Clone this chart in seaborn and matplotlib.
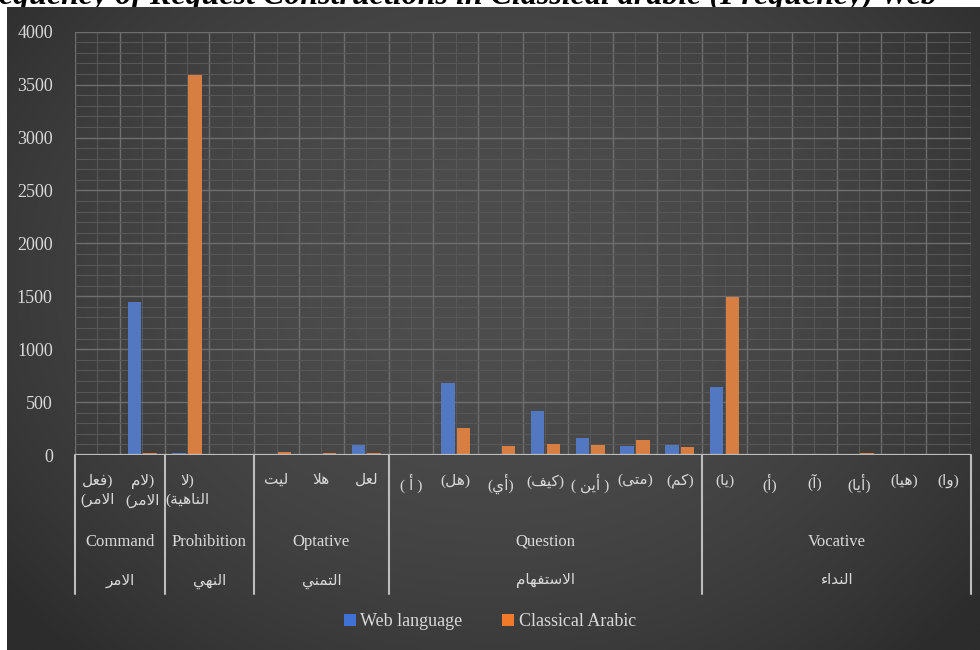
import re
import numpy as np
import pandas as pd
import matplotlib
matplotlib.use("Agg")
import matplotlib.pyplot as plt
import seaborn as sns
from matplotlib.patches import Patch
from matplotlib.lines import Line2D
from matplotlib.transforms import blended_transform_factory

# ---------------- data ----------------
subcats = ["(فعل\nالامر)", "(لام\nالامر)", "(لا\nالناهية)", "",
           "ليت", "هلا", "لعل",
           "( أ )", "(هل)", "(أي)", "(كيف)", "( أين )", "(متى)", "(كم)",
           "(يا)", "(أ)", "(آ)", "(أيا)", "(هيا)", "(وا)"]
groups_en = ["Command", "Prohibition", "Optative", "Question", "Vocative"]
groups_ar = ["الامر", "النهي", "التمني", "الاستفهام", "النداء"]
group_sizes = [2, 2, 3, 7, 6]
series = ["Web language", "Classical Arabic"]
web = [0, 1450, 15, np.nan, 0, 10, 95, 0, 678, 0, 416, 161, 85, 95,
       640, 0, 0, 0, 10, 0]
classical = [0, 20, 3590, np.nan, 25, 15, 15, 10, 255, 85, 104, 95, 142, 76,
             1490, 0, 0, 15, 0, 0]
yticks = [0, 500, 1000, 1500, 2000, 2500, 3000, 3500, 4000]
title = "Frequency of Request Constructions in Classical arabic (Frequency) Web"

# ------------- minimal Arabic shaping (presentation forms, visual RTL order) -------------
FORMS = {
    'ا': ('\uFE8D', '\uFE8E', None, None), 'أ': ('\uFE83', '\uFE84', None, None),
    'آ': ('\uFE81', '\uFE82', None, None), 'ء': ('\uFE80', None, None, None),
    'د': ('\uFEA9', '\uFEAA', None, None), 'ر': ('\uFEAD', '\uFEAE', None, None),
    'و': ('\uFEED', '\uFEEE', None, None), 'ة': ('\uFE93', '\uFE94', None, None),
    'ى': ('\uFEEF', '\uFEF0', None, None),
    'ت': ('\uFE95', '\uFE96', '\uFE97', '\uFE98'), 'س': ('\uFEB1', '\uFEB2', '\uFEB3', '\uFEB4'),
    'ع': ('\uFEC9', '\uFECA', '\uFECB', '\uFECC'), 'ف': ('\uFED1', '\uFED2', '\uFED3', '\uFED4'),
    'ك': ('\uFED9', '\uFEDA', '\uFEDB', '\uFEDC'), 'ل': ('\uFEDD', '\uFEDE', '\uFEDF', '\uFEE0'),
    'م': ('\uFEE1', '\uFEE2', '\uFEE3', '\uFEE4'), 'ن': ('\uFEE5', '\uFEE6', '\uFEE7', '\uFEE8'),
    'ه': ('\uFEE9', '\uFEEA', '\uFEEB', '\uFEEC'), 'ي': ('\uFEF1', '\uFEF2', '\uFEF3', '\uFEF4'),
}
LAMALEF = {'ا': ('\uFEFB', '\uFEFC'), 'أ': ('\uFEF7', '\uFEF8'), 'آ': ('\uFEF5', '\uFEF6')}
ARABIC = r'[\u0621-\u064A]+'


def shape_word(w):
    units = []
    i = 0
    while i < len(w):
        c = w[i]
        if c == 'ل' and i + 1 < len(w) and w[i + 1] in LAMALEF:
            units.append(('LA', w[i + 1]))
            i += 2
        else:
            units.append(('C', c))
            i += 1

    def dual(u):
        return u[0] == 'C' and u[1] in FORMS and FORMS[u[1]][2] is not None

    def joinable(u):
        return u[0] == 'LA' or (u[1] in FORMS and FORMS[u[1]][1] is not None)

    out = []
    for k, u in enumerate(units):
        prev = k > 0 and dual(units[k - 1]) and joinable(u)
        nxt = k + 1 < len(units) and dual(u) and joinable(units[k + 1])
        if u[0] == 'LA':
            out.append(LAMALEF[u[1]][1 if prev else 0])
            continue
        f = FORMS.get(u[1])
        if f is None:
            out.append(u[1])
            continue
        if prev and nxt:
            out.append(f[3])
        elif prev:
            out.append(f[1])
        elif nxt:
            out.append(f[2])
        else:
            out.append(f[0])
    return ''.join(out)[::-1]


MIRROR = {'(': ')', ')': '('}


def ar_line(line):
    tokens = re.findall(ARABIC + r'|[^\u0621-\u064A]', line)
    out = []
    for t in reversed(tokens):
        if re.fullmatch(ARABIC, t):
            out.append(shape_word(t))
        else:
            out.append(MIRROR.get(t, t))
    return ''.join(out)


def ar(text):
    return '\n'.join(ar_line(l) for l in text.split('\n'))


# ---------------- style ----------------
sns.set_theme(style="dark")
plt.rcParams['font.family'] = ['Liberation Serif', 'DejaVu Sans']
TXT = '#d9d9d9'
BLUE = '#3f72d4'
ORANGE = '#f07a2a'

W, H = 980, 650
fig = plt.figure(figsize=(9.8, 6.5), dpi=100, facecolor='white')

# background panel with soft radial gradient
bg = fig.add_axes([7 / W, 0, 1 - 7 / W, 1 - 7 / H], zorder=-5)
gh, gw = 160, 240
yy, xx = np.mgrid[0:gh, 0:gw]
r = np.sqrt(((xx - gw * 0.5) / (gw * 0.62)) ** 2 + ((yy - gh * 0.42) / (gh * 0.75)) ** 2)
gray = np.clip(77 - 30 * r ** 2, 44, 80) / 255.0
bg.imshow(np.dstack([gray, gray, gray]), aspect='auto', interpolation='bilinear')
bg.set_axis_off()

# title (cut off at top as in the source)
fig.text(-35 / W, 1 - 4 / H, title, fontsize=23, fontstyle='italic', fontweight='bold',
         color='black', ha='left', va='baseline', zorder=-10)

# main axes
x0, x1 = 75, 971
y0, y1 = 455, 31.7
ax = fig.add_axes([x0 / W, 1 - y0 / H, (x1 - x0) / W, (y0 - y1) / H])
ax.patch.set_alpha(0)

df = pd.DataFrame({
    'slot': subcats * 2,
    'value': web + classical,
    'series': [series[0]] * len(subcats) + [series[1]] * len(subcats),
})
sns.barplot(data=df, x='slot', y='value', hue='series', order=subcats, hue_order=series,
            palette=[BLUE, ORANGE], width=0.7, gap=0.15, errorbar=None, linewidth=0,
            legend=False, ax=ax, zorder=3)

n = len(subcats)
ax.set_xlim(-0.5, n - 0.5)
ax.set_ylim(0, 4000)
ax.set_xticks(np.arange(-0.5, n, 1))
ax.set_xticks(np.arange(n), minor=True)
ax.set_xticklabels([])
ax.set_yticks(yticks)
ax.set_yticks(np.arange(0, 4001, 100), minor=True)
ax.set_yticklabels([str(v) for v in yticks])
ax.tick_params(axis='both', which='both', length=0)
ax.tick_params(axis='y', pad=16, labelsize=13, labelcolor=TXT)
ax.set_xlabel('')
ax.set_ylabel('')
ax.grid(True, which='major', color='#6e6e6e', linewidth=1.0)
ax.grid(True, which='minor', color='#575757', linewidth=0.8)
ax.set_axisbelow(True)
for s in ax.spines.values():
    s.set_visible(False)
ax.axhline(0, color='#bdbdbd', linewidth=1.6, zorder=4)

# multi-level category labels
trans = blended_transform_factory(ax.transData, fig.transFigure)
LINE = '#bdbdbd'
for i, lab in enumerate(subcats):
    if lab:
        ax.text(i, 1 - 474 / H, ar(lab), transform=trans, ha='center', va='top',
                color=TXT, fontsize=11, linespacing=1.45, clip_on=False)
bounds = np.concatenate([[0], np.cumsum(group_sizes)]) - 0.5
for b in bounds:
    ax.add_line(Line2D([b, b], [1 - 455 / H, 1 - 594 / H], transform=trans,
                       color=LINE, linewidth=1.5, clip_on=False))
for g in range(len(group_sizes)):
    cx = (bounds[g] + bounds[g + 1]) / 2
    ax.text(cx, 1 - 542 / H, groups_en[g], transform=trans, ha='center', va='center',
            color=TXT, fontsize=12, clip_on=False)
    ax.text(cx, 1 - 581 / H, ar(groups_ar[g]), transform=trans, ha='center', va='center',
            color=TXT, fontsize=11, clip_on=False)

# legend
handles = [Patch(facecolor=BLUE, edgecolor='none', label=series[0]),
           Patch(facecolor=ORANGE, edgecolor='none', label=series[1])]
leg = fig.legend(handles=handles, loc='center', bbox_to_anchor=(0.5, 1 - 622 / H),
                 ncol=2, frameon=False, fontsize=13, handlelength=0.65, handleheight=0.65,
                 handletextpad=0.25, columnspacing=2.2, labelcolor=TXT)

fig.savefig('out.png', dpi=100, facecolor='white')
